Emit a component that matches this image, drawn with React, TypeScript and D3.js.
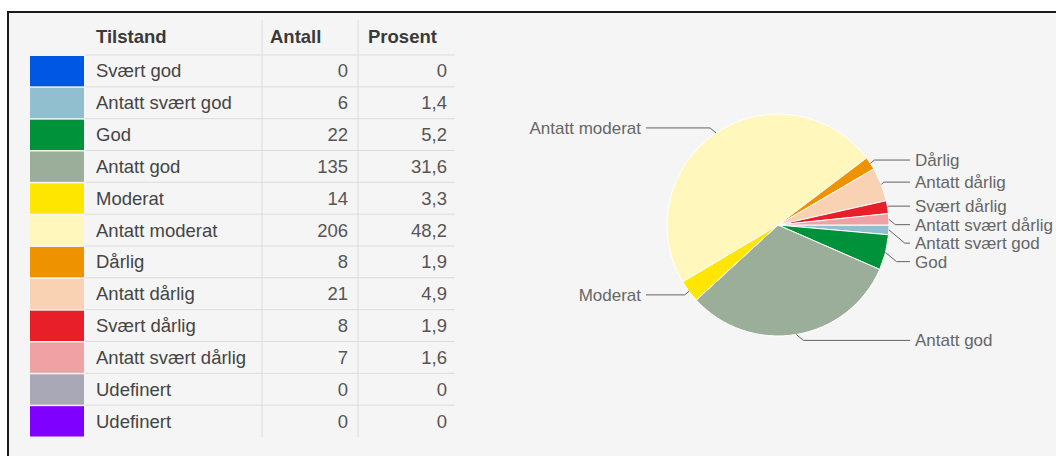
import React, { useEffect, useRef } from "react";
import * as d3 from "d3";

const categories = [
  "Svært god",
  "Antatt svært god",
  "God",
  "Antatt god",
  "Moderat",
  "Antatt moderat",
  "Dårlig",
  "Antatt dårlig",
  "Svært dårlig",
  "Antatt svært dårlig",
  "Udefinert",
  "Udefinert",
];
const counts = [0, 6, 22, 135, 14, 206, 8, 21, 8, 7, 0, 0];
const percents = [0, 1.4, 5.2, 31.6, 3.3, 48.2, 1.9, 4.9, 1.9, 1.6, 0, 0];
const colors = [
  "#0057e4",
  "#92bfcf",
  "#00913b",
  "#9bae99",
  "#ffe600",
  "#fff7bc",
  "#ef9200",
  "#f9d2b3",
  "#e81f28",
  "#efa1a4",
  "#a9a8b6",
  "#8000ff",
];
const headers = ["Tilstand", "Antall", "Prosent"];

const W = 1056;
const H = 456;

export default function App() {
  const ref = useRef<SVGSVGElement>(null);

  useEffect(() => {
    const svg = d3.select(ref.current);
    svg.selectAll("*").remove();

    // frame
    svg.append("rect").attr("width", W).attr("height", H).attr("fill", "#fff");
    svg
      .append("rect")
      .attr("x", 8)
      .attr("y", 12)
      .attr("width", W)
      .attr("height", H)
      .attr("fill", "#f5f5f5")
      .attr("stroke", "#1a1a1a")
      .attr("stroke-width", 2);

    // ---- table ----
    const font = "'Liberation Sans', Arial, sans-serif";
    const rows = d3
      .scaleBand<number>()
      .domain(d3.range(categories.length))
      .range([55, 437]);
    const rh = rows.bandwidth();
    const colName = 96;
    const colCount = 348;
    const colPct = 447;

    const table = svg.append("g").attr("font-family", font);

    // column separators
    [262, 358].forEach((x) => {
      table
        .append("line")
        .attr("x1", x)
        .attr("x2", x)
        .attr("y1", 20)
        .attr("y2", 437)
        .attr("stroke", "#dcdcdc");
    });

    // header
    table
      .selectAll("text.head")
      .data(headers)
      .enter()
      .append("text")
      .attr("class", "head")
      .attr("x", (d, i) => (i === 0 ? colName : i === 1 ? 270 : 368))
      .attr("y", 43)
      .attr("font-size", 18.5)
      .attr("font-weight", "bold")
      .attr("fill", "#3a3a3a")
      .text((d) => d);

    const row = table
      .selectAll("g.row")
      .data(categories)
      .enter()
      .append("g")
      .attr("class", "row")
      .attr("transform", (d, i) => "translate(0," + rows(i) + ")");

    row
      .filter((d, i) => i < categories.length - 1)
      .append("line")
      .attr("x1", 85)
      .attr("x2", 455)
      .attr("y1", rh)
      .attr("y2", rh)
      .attr("stroke", "#dcdcdc");

    row
      .append("rect")
      .attr("x", 30)
      .attr("y", 1)
      .attr("width", 54)
      .attr("height", rh - 1.5)
      .attr("fill", (d, i) => colors[i]);

    row
      .append("text")
      .attr("x", colName)
      .attr("y", rh / 2 + 6.5)
      .attr("font-size", 18.5)
      .attr("fill", "#444")
      .text((d) => d);

    row
      .append("text")
      .attr("x", colCount)
      .attr("y", rh / 2 + 6.5)
      .attr("text-anchor", "end")
      .attr("font-size", 18.5)
      .attr("fill", "#555")
      .text((d, i) => counts[i]);

    row
      .append("text")
      .attr("x", colPct)
      .attr("y", rh / 2 + 6.5)
      .attr("text-anchor", "end")
      .attr("font-size", 18.5)
      .attr("fill", "#555")
      .text((d, i) =>
        percents[i] === 0 ? "0" : percents[i].toFixed(1).replace(".", ",")
      );

    // header bottom line
    table
      .append("line")
      .attr("x1", 85)
      .attr("x2", 455)
      .attr("y1", 55)
      .attr("y2", 55)
      .attr("stroke", "#dcdcdc");

    // ---- pie ----
    const cx = 778;
    const cy = 225;
    const r = 111;

    const pie = d3
      .pie<number>()
      .sort(null)
      .value((d) => d)
      .startAngle(Math.PI / 2)
      .endAngle(Math.PI / 2 + 2 * Math.PI);
    const arcs = pie(counts);
    const arc = d3.arc<d3.PieArcDatum<number>>().innerRadius(0).outerRadius(r);

    const g = svg
      .append("g")
      .attr("transform", "translate(" + cx + "," + cy + ")");

    g.selectAll("path.slice")
      .data(arcs.filter((a) => a.value > 0))
      .enter()
      .append("path")
      .attr("class", "slice")
      .attr("d", arc)
      .attr("fill", (d) => colors[d.index])
      .attr("stroke", "#fff")
      .attr("stroke-width", 1);

    // labels
    type Lab = { name: string; a: number; right: boolean; y: number };
    const labs: Lab[] = arcs
      .filter((a) => a.value > 0)
      .map((a) => {
        const m = (a.startAngle + a.endAngle) / 2;
        return {
          name: categories[a.index],
          a: m,
          right: Math.sin(m) > 0,
          y: -(r + 6) * Math.cos(m),
        };
      });

    const gap = 18.5;
    [true, false].forEach((side) => {
      const s = labs.filter((l) => l.right === side).sort((p, q) => p.y - q.y);
      for (let i = 1; i < s.length; i++) {
        if (s[i].y < s[i - 1].y + gap) s[i].y = s[i - 1].y + gap;
      }
    });

    const lineEnd = 132;
    const textX = 137;

    labs.forEach((l) => {
      const sign = l.right ? 1 : -1;
      const ax = r * Math.sin(l.a);
      const ay = -r * Math.cos(l.a);
      const dy = Math.abs(l.y - ay);
      let bx = ax + sign * dy * 1.2;
      if (Math.abs(bx) > lineEnd - 4) bx = sign * (lineEnd - 4);
      g.append("path")
        .attr(
          "d",
          d3.line()([
            [ax, ay],
            [bx, l.y],
            [sign * lineEnd, l.y],
          ])
        )
        .attr("fill", "none")
        .attr("stroke", "#636363")
        .attr("stroke-width", 1);
      g.append("text")
        .attr("x", sign * textX)
        .attr("y", l.y)
        .attr("dy", "0.35em")
        .attr("text-anchor", l.right ? "start" : "end")
        .attr("font-family", font)
        .attr("font-size", 17)
        .attr("fill", "#666")
        .text(l.name);
    });
  }, []);

  return (
    <svg
      ref={ref}
      width={W}
      height={H}
      style={{ position: "absolute", left: 0, top: 0, display: "block" }}
    />
  );
}
